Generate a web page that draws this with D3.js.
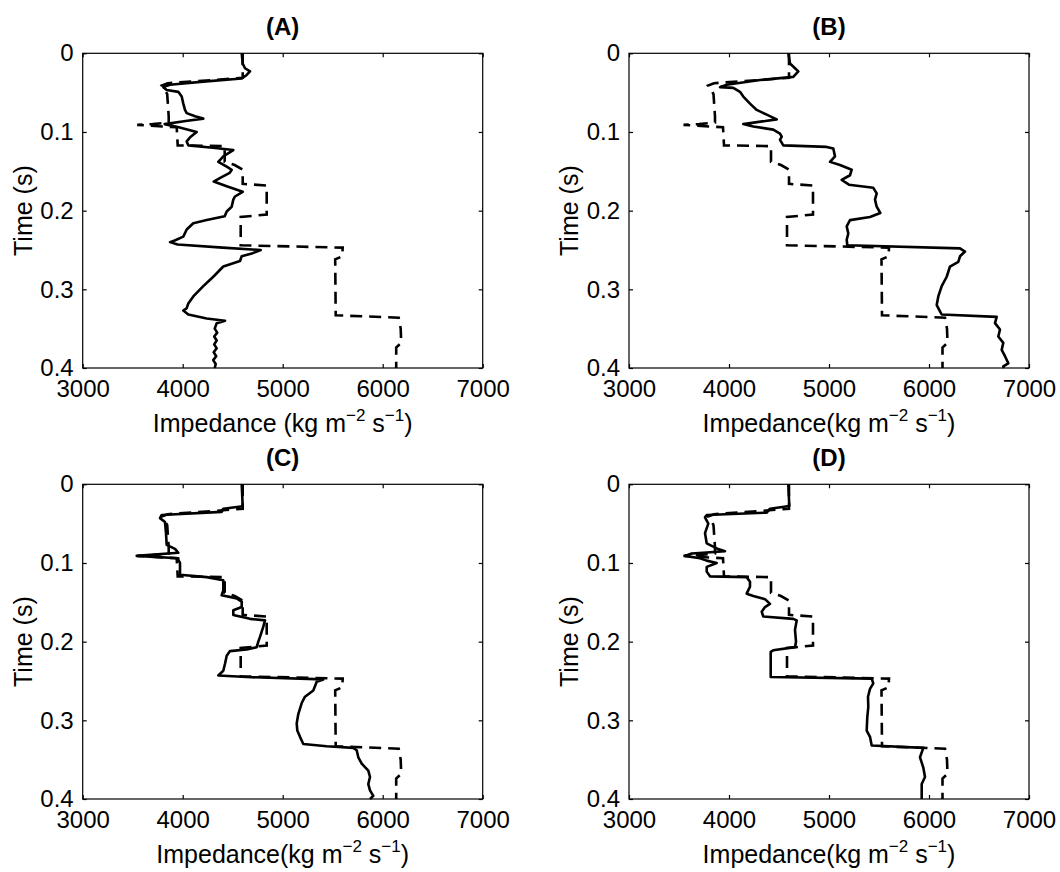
<!DOCTYPE html>
<html>
<head>
<meta charset="utf-8">
<script src="https://cdn.jsdelivr.net/npm/d3@7"></script>
<style>
  html, body { margin: 0; padding: 0; background: #fff; }
  svg { display: block; font-family: "Liberation Sans", Arial, Helvetica, sans-serif; }
</style>
</head>
<body>
<div id="chart"></div>
<script>
// axis ticks
var impTicks = [3000, 4000, 5000, 6000, 7000];
var timeTicks = [0, 0.1, 0.2, 0.3, 0.4];
var panelTitles = ["(A)", "(B)", "(C)", "(D)"];

// true impedance model (dashed), same in every panel: [time, impedance]
var modelTrue = [
  [0, 4600], [0.031, 4600], [0.034, 4300], [0.038, 3850], [0.041, 3790], [0.046, 3820],
  [0.052, 3845], [0.080, 3860], [0.088, 3860], [0.090, 3700], [0.091, 3545], [0.093, 3800],
  [0.094, 3940], [0.117, 3950], [0.118, 4420], [0.138, 4420], [0.142, 4520], [0.148, 4600],
  [0.166, 4600], [0.168, 4840], [0.205, 4840], [0.208, 4580], [0.244, 4580], [0.247, 5600],
  [0.258, 5595], [0.262, 5525], [0.333, 5530], [0.336, 6160], [0.350, 6180], [0.368, 6185],
  [0.374, 6135], [0.400, 6135]
];

// inverted impedance (solid), one per panel
var invA = [
  [0, 4590], [0.013, 4600], [0.019, 4623], [0.023, 4673], [0.0275, 4640], [0.032, 4590],
  [0.036, 4206], [0.040, 3873], [0.043, 3806], [0.0466, 3840], [0.049, 3956], [0.055, 3990],
  [0.064, 4006], [0.072, 4023], [0.076, 4040], [0.080, 4123], [0.083, 4206], [0.086, 4030],
  [0.090, 3820], [0.094, 3960], [0.100, 4140], [0.106, 4080], [0.112, 4040], [0.117, 4056],
  [0.120, 4300], [0.123, 4506], [0.131, 4406], [0.138, 4356], [0.144, 4440], [0.148, 4490],
  [0.152, 4470], [0.158, 4380], [0.163, 4310], [0.169, 4440], [0.176, 4600], [0.182, 4523],
  [0.186, 4506], [0.195, 4490], [0.201, 4440], [0.207, 4420], [0.212, 4240], [0.216, 4106],
  [0.224, 4040], [0.233, 4006], [0.238, 3920], [0.240, 3873], [0.243, 3950], [0.247, 4400],
  [0.250, 4780], [0.254, 4700], [0.258, 4590], [0.264, 4573], [0.271, 4406], [0.284, 4306],
  [0.296, 4206], [0.309, 4106], [0.318, 4056], [0.324, 4040], [0.327, 4006], [0.332, 4056],
  [0.337, 4240], [0.340, 4423], [0.343, 4340], [0.350, 4320], [0.355, 4345], [0.360, 4315],
  [0.365, 4340], [0.370, 4315], [0.375, 4340], [0.380, 4310], [0.385, 4335], [0.390, 4305],
  [0.395, 4330], [0.400, 4320]
];

var invB = [
  [0, 4593], [0.013, 4610], [0.019, 4660], [0.023, 4693], [0.030, 4643], [0.034, 4310],
  [0.040, 3977], [0.043, 3910], [0.044, 4043], [0.049, 4110], [0.055, 4143], [0.064, 4210],
  [0.072, 4277], [0.078, 4377], [0.084, 4477], [0.090, 4143], [0.093, 4243], [0.097, 4443],
  [0.102, 4510], [0.106, 4527], [0.110, 4510], [0.117, 4543], [0.119, 4977], [0.121, 5043],
  [0.131, 5060], [0.138, 5010], [0.142, 5110], [0.148, 5227], [0.155, 5210], [0.161, 5127],
  [0.167, 5200], [0.171, 5443], [0.178, 5477], [0.186, 5460], [0.195, 5477], [0.203, 5513],
  [0.208, 5410], [0.212, 5210], [0.220, 5177], [0.229, 5193], [0.237, 5177], [0.244, 5183],
  [0.248, 6310], [0.252, 6360], [0.258, 6310], [0.265, 6293], [0.271, 6210], [0.284, 6177],
  [0.296, 6127], [0.309, 6093], [0.320, 6077], [0.328, 6110], [0.332, 6127], [0.335, 6677],
  [0.343, 6660], [0.351, 6710], [0.360, 6693], [0.368, 6743], [0.377, 6727], [0.385, 6760],
  [0.394, 6793], [0.398, 6743], [0.400, 6750]
];

var invC = [
  [0, 4590], [0.028, 4600], [0.031, 4406], [0.035, 4390], [0.039, 3790], [0.043, 3773],
  [0.048, 3823], [0.062, 3833], [0.077, 3840], [0.082, 3923], [0.087, 3956], [0.091, 3540],
  [0.094, 3956], [0.096, 3956], [0.100, 3973], [0.115, 3973], [0.118, 4240], [0.122, 4406],
  [0.135, 4406], [0.141, 4390], [0.145, 4540], [0.149, 4590], [0.156, 4590], [0.160, 4506],
  [0.166, 4506], [0.171, 4673], [0.173, 4823], [0.181, 4806], [0.194, 4773], [0.200, 4756],
  [0.207, 4740], [0.210, 4640], [0.212, 4473], [0.218, 4440], [0.228, 4423], [0.237, 4406],
  [0.243, 4356], [0.245, 4640], [0.248, 5406], [0.251, 5340], [0.262, 5306], [0.270, 5223],
  [0.278, 5190], [0.292, 5156], [0.304, 5140], [0.313, 5146], [0.321, 5173], [0.330, 5206],
  [0.333, 5440], [0.335, 5706], [0.338, 5740], [0.347, 5756], [0.355, 5790], [0.364, 5856],
  [0.372, 5873], [0.381, 5856], [0.389, 5873], [0.396, 5906], [0.400, 5873]
];

var invD = [
  [0, 4593], [0.0276, 4603], [0.031, 4410], [0.036, 4377], [0.039, 3777], [0.042, 3760],
  [0.050, 3793], [0.062, 3760], [0.075, 3777], [0.0815, 3877], [0.085, 3960], [0.088, 3627],
  [0.091, 3560], [0.094, 3710], [0.097, 3777], [0.100, 3877], [0.105, 3777], [0.111, 3777],
  [0.117, 3810], [0.118, 4177], [0.124, 4210], [0.130, 4210], [0.139, 4177], [0.142, 4243],
  [0.146, 4360], [0.152, 4410], [0.156, 4360], [0.162, 4327], [0.168, 4343], [0.171, 4643],
  [0.173, 4677], [0.185, 4660], [0.200, 4670], [0.207, 4660], [0.211, 4443], [0.213, 4417],
  [0.245, 4417], [0.247, 5427], [0.253, 5443], [0.260, 5410], [0.270, 5390], [0.283, 5393],
  [0.296, 5383], [0.313, 5377], [0.321, 5410], [0.332, 5427], [0.335, 5943], [0.347, 5910],
  [0.360, 5943], [0.372, 5960], [0.381, 5927], [0.400, 5927]
];

var width = 1060, height = 872;
var svg = d3.select("#chart").append("svg")
  .attr("width", width)
  .attr("height", height);
svg.append("rect").attr("width", width).attr("height", height).attr("fill", "#fff");

// panel frames
var panels = [
  {title: panelTitles[0], data: invA, x0: 82.7, y0: 53.3, space: true},
  {title: panelTitles[1], data: invB, x0: 629, y0: 53.3, space: false},
  {title: panelTitles[2], data: invC, x0: 82.7, y0: 484.3, space: false},
  {title: panelTitles[3], data: invD, x0: 629, y0: 484.3, space: false}
];
var pw = 400, ph = 314.7;

panels.forEach(function(p) {
  var x = d3.scaleLinear().domain([3000, 7000]).range([p.x0, p.x0 + pw]);
  var y = d3.scaleLinear().domain([0, 0.4]).range([p.y0, p.y0 + ph]);
  var g = svg.append("g");

  var line = d3.line()
    .x(function(d) { return x(d[1]); })
    .y(function(d) { return y(d[0]); });

  g.append("path")
    .datum(modelTrue)
    .attr("d", line)
    .attr("fill", "none")
    .attr("stroke", "#000")
    .attr("stroke-width", 2.6)
    .attr("stroke-dasharray", "12,7");

  g.append("path")
    .datum(p.data)
    .attr("d", line)
    .attr("fill", "none")
    .attr("stroke", "#000")
    .attr("stroke-width", 2.6)
    .attr("stroke-linejoin", "round");

  // axes, ticks inward like matlab
  var bottom = g.append("g").attr("transform", "translate(0," + (p.y0 + ph) + ")")
    .call(d3.axisBottom(x).tickValues(impTicks).tickSize(-4).tickSizeOuter(0).tickPadding(12)
      .tickFormat(d3.format("d")));
  var left = g.append("g").attr("transform", "translate(" + p.x0 + ",0)")
    .call(d3.axisLeft(y).tickValues(timeTicks).tickSize(-4).tickSizeOuter(0).tickPadding(9)
      .tickFormat(function(d) { return d === 0 ? "0" : d3.format(".1f")(d); }));
  var top = g.append("g").attr("transform", "translate(0," + p.y0 + ")")
    .call(d3.axisTop(x).tickValues(impTicks).tickSize(-4).tickSizeOuter(0).tickFormat(""));
  var right = g.append("g").attr("transform", "translate(" + (p.x0 + pw) + ",0)")
    .call(d3.axisRight(y).tickValues(timeTicks).tickSize(-4).tickSizeOuter(0).tickFormat(""));

  [bottom, left, top, right].forEach(function(a) {
    a.select(".domain").remove();
    a.selectAll("line").attr("stroke", "#000").attr("stroke-width", 1.2);
    a.selectAll("text")
      .attr("fill", "#000")
      .style("font-size", "24px")
      .style("font-family", "'Liberation Sans', Arial, sans-serif");
  });

  g.append("rect")
    .attr("x", p.x0).attr("y", p.y0)
    .attr("width", pw).attr("height", ph)
    .attr("fill", "none")
    .attr("stroke", "#000")
    .attr("stroke-width", 1.2);

  var cx = p.x0 + pw / 2;

  g.append("text")
    .attr("x", cx).attr("y", p.y0 - 18)
    .attr("text-anchor", "middle")
    .style("font-size", "24px")
    .style("font-weight", "bold")
    .text(p.title);

  // x label with superscripts
  var xl = g.append("text")
    .attr("x", cx).attr("y", p.y0 + ph + 64)
    .attr("text-anchor", "middle")
    .style("font-size", "25px");
  xl.append("tspan").text(p.space ? "Impedance (kg m" : "Impedance(kg m");
  xl.append("tspan").attr("dy", -11).style("font-size", "17px").text("\u22122");
  xl.append("tspan").attr("dy", 11).text("\u00a0s");
  xl.append("tspan").attr("dy", -11).style("font-size", "17px").text("\u22121");
  xl.append("tspan").attr("dy", 11).text(")");

  g.append("text")
    .attr("transform", "translate(" + (p.x0 - 50.7) + "," + (p.y0 + ph / 2) + ") rotate(-90)")
    .attr("text-anchor", "middle")
    .style("font-size", "25px")
    .text("Time (s)");
});
</script>
</body>
</html>
